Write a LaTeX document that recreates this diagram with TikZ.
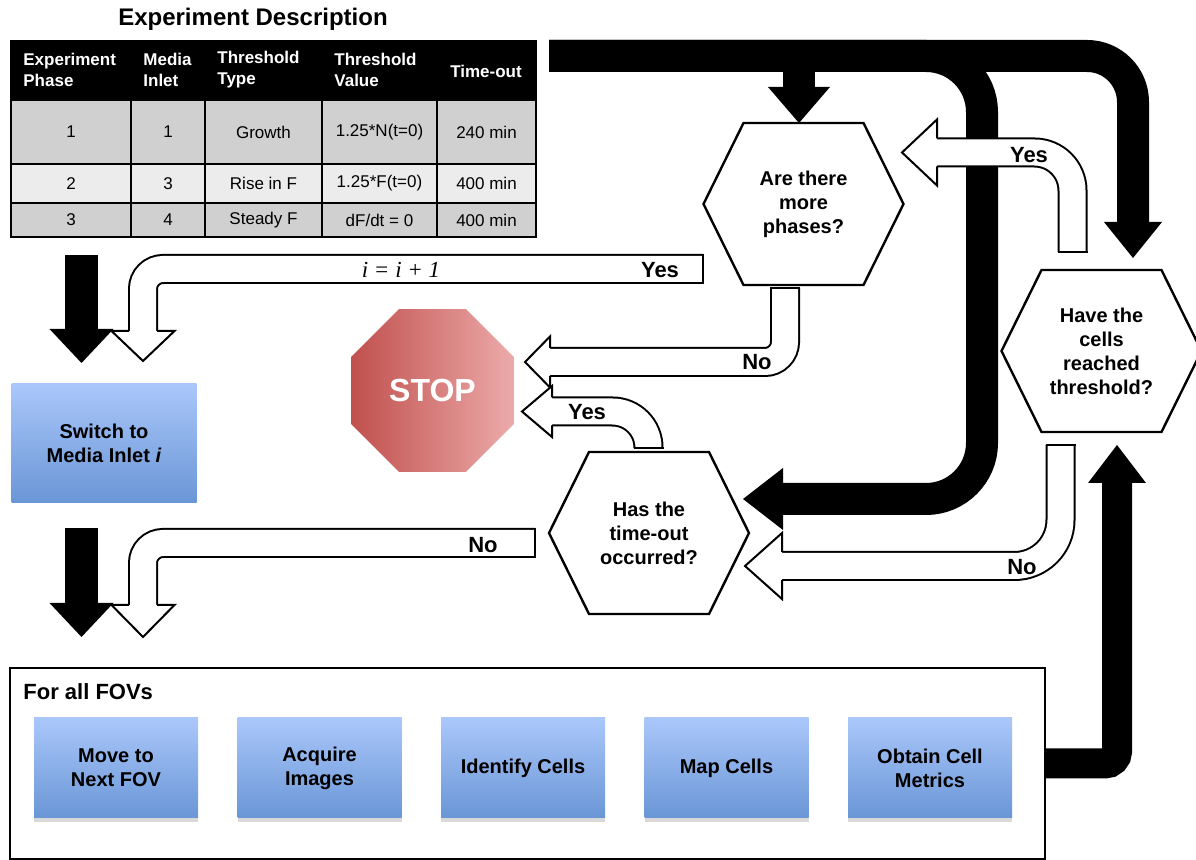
\documentclass[tikz,border=0pt]{standalone}
\usepackage{fontspec}
\setmainfont{Liberation Sans}
\newfontfamily\serifit{Liberation Serif}
\usetikzlibrary{calc, shapes.geometric, shadows}

\definecolor{boxtop}{RGB}{170,199,250}
\definecolor{boxbot}{RGB}{106,150,214}
\definecolor{stopdark}{RGB}{192,80,77}
\definecolor{stoplight}{RGB}{236,170,170}
\definecolor{rowdark}{RGB}{208,208,208}
\definecolor{rowlight}{RGB}{236,236,236}

\tikzset{
  pics/whead/.style 2 args={code={\filldraw[fill=white, line width=1pt, line join=miter] (-14,0) -- (-#1,0) -- (0,#2) -- (#1,0) -- (14,0);}},
  pics/bhead/.style 2 args={code={\fill (-#1,-1) -- (#1,-1) -- (0,#2) -- cycle;}}
}
\newcommand{\hexframe}[1]{\draw[line width=1.2pt, line join=miter] (#1.west) -- ($(#1.north west)!.2!(#1.north east)$) -- ($(#1.north west)!.8!(#1.north east)$) -- (#1.east) -- ($(#1.south west)!.8!(#1.south east)$) -- ($(#1.south west)!.2!(#1.south east)$) -- cycle;}

\begin{document}
\begin{tikzpicture}[x=0.5pt, y=-0.5pt,
    hexnode/.style={minimum width=100pt, minimum height=81pt, inner sep=0pt, outer sep=0pt, align=center, font=\fontsize{10}{12}\selectfont\bfseries},
    bluebox/.style={rectangle, top color=boxtop, bottom color=boxbot, inner sep=0pt, align=center, font=\fontsize{10}{12}\selectfont\bfseries},
    wband/.style={draw=black, line width=1pt, double=white, double distance=13pt},
    bband/.style={line width=16pt},
    endline/.style={line width=1pt, line cap=rect},
    lbl/.style={font=\fontsize{11}{13}\selectfont\bfseries, inner sep=0pt},
    hcell/.style={anchor=west, align=left, inner sep=0pt, text=white, font=\fontsize{8.5}{10.5}\selectfont\bfseries},
    bodycell/.style={inner sep=0pt, font=\fontsize{8.5}{10}\selectfont}]
  \useasboundingbox (0,0) rectangle (1196,860);

  % table
  \node[font=\fontsize{12}{14}\selectfont\bfseries] (title) at (253,19) {Experiment Description};
  \fill (11,41) rectangle (536,100);
  \fill[rowdark] (11,100) rectangle (536,164);
  \fill[rowlight] (11,164) rectangle (536,203);
  \fill[rowdark] (11,203) rectangle (536,237);
  \draw[line width=1pt] (11,41) rectangle (536,237);
  \foreach \y in {100,164,203} \draw[line width=1pt] (11,\y) -- (536,\y);
  \foreach \x in {131,205,322,437} \draw[line width=1pt] (\x,100) -- (\x,237);

  \node[hcell] (hPhase) at (23,70) {Experiment\\Phase};
  \node[hcell] (hInlet) at (143,70) {Media\\Inlet};
  \node[hcell] (hType) at (217,70) {Threshold\\Type};
  \node[hcell] (hValue) at (334,70) {Threshold\\Value};
  \node[hcell, anchor=center] (hTime) at (486,71) {Time-out};

  \node[bodycell] (phase1) at (71,132) {1};
  \node[bodycell] (inlet1) at (168,132) {1};
  \node[bodycell] (type1) at (263.5,132) {Growth};
  \node[bodycell] (value1) at (379.5,132) {1.25*N(t=0)};
  \node[bodycell] (time1) at (486.5,132) {240 min};
  \node[bodycell] (phase2) at (71,183.5) {2};
  \node[bodycell] (inlet2) at (168,183.5) {3};
  \node[bodycell] (type2) at (263.5,183.5) {Rise in F};
  \node[bodycell] (value2) at (379.5,183.5) {1.25*F(t=0)};
  \node[bodycell] (time2) at (486.5,183.5) {400 min};
  \node[bodycell] (phase3) at (71,220) {3};
  \node[bodycell] (inlet3) at (168,220) {4};
  \node[bodycell] (type3) at (263.5,220) {Steady F};
  \node[bodycell] (value3) at (379.5,220) {dF/dt = 0};
  \node[bodycell] (time3) at (486.5,220) {400 min};

  % decisions and blocks
  \node[hexnode] (more) at (803.5,204) {Are there\\more\\phases?};
  \node[hexnode] (cells) at (1101.5,351) {Have the\\cells\\reached\\threshold?};
  \node[hexnode] (timeout) at (649,533) {Has the\\time-out\\occurred?};
  \hexframe{more}
  \hexframe{cells}
  \hexframe{timeout}

  \node[regular polygon, regular polygon sides=8, minimum size=88pt, inner sep=0pt, left color=stopdark, right color=stoplight, text=white, font=\fontsize{16}{18}\selectfont\bfseries] (stop) at (432.5,390.5) {STOP};

  \node[bluebox, minimum width=92.5pt, minimum height=59.5pt] (switch) at (104,443.5) {Switch to\\Media Inlet \textit{i}};

  \node[draw, line width=1pt, minimum width=517.5pt, minimum height=95.5pt, inner sep=0pt] (fov) at (527.5,763.5) {};
  \node[anchor=west, inner sep=0pt, font=\fontsize{11}{13}\selectfont\bfseries] (fovLabel) at (23,692) {For all FOVs};
  \foreach \name/\txt [count=\i from 0] in {move/Move to\\Next FOV, acquire/Acquire\\Images, identify/Identify Cells, map/Map Cells, metrics/Obtain Cell\\Metrics}
    \node[bluebox, drop shadow={shadow xshift=0pt, shadow yshift=-2pt, opacity=.3}, minimum width=82pt, minimum height=50pt] (\name) at (116+203.5*\i,768) {\txt};

  % black flow
  \coordinate (feed) at (549,56);
  \coordinate (moreIn) at (799,88);
  \coordinate (cellsIn) at (1133,223);
  \coordinate (timeoutIn) at (782,499);
  \coordinate (cellsUp) at (1117,482);
  \draw[bband, rounded corners=23pt] (feed) -| (cellsIn);
  \draw[bband, rounded corners=28pt] (feed) -- (982,56) |- (timeoutIn);
  \draw[bband] (feed -| moreIn) -- (moreIn);
  \pic at (moreIn) {bhead={31}{35}};
  \pic at (cellsIn) {bhead={29}{35}};
  \pic[rotate=-90] at (timeoutIn) {bhead={31}{39}};
  \draw[line width=15pt, rounded corners=6pt] (fov.east) -| (cellsUp);
  \pic[rotate=180] at (cellsUp) {bhead={29}{37}};

  \coordinate (tableOut) at (81.5,255);
  \coordinate (switchIn) at (81.5,330);
  \coordinate (switchOut) at (81.5,528);
  \coordinate (fovIn) at (81.5,604);
  \draw[line width=16.5pt] (tableOut) -- (switchIn);
  \pic at (switchIn) {bhead={32}{33}};
  \draw[line width=16.5pt] (switchOut) -- (fovIn);
  \pic at (fovIn) {bhead={32}{33}};

  % hollow answers
  \coordinate (incS) at (703,269);
  \coordinate (incH) at (143,331);
  \draw[wband, rounded corners=10pt] (incS) -| (incH);
  \draw[endline] (incS) ++(0,-14) -- ++(0,28);
  \pic at (incH) {whead={31.5}{30}};
  \node[font=\serifit\itshape\fontsize{11.5}{13}\selectfont, inner sep=0pt] (inc) at (401,270) {i = i + 1};
  \node[lbl] (incYes) at (660,270) {Yes};

  \coordinate (waitS) at (535,543);
  \coordinate (waitH) at (143,605);
  \draw[wband, rounded corners=10pt] (waitS) -| (waitH);
  \draw[endline] (waitS) ++(0,-14) -- ++(0,28);
  \pic at (waitH) {whead={31.5}{32}};
  \node[lbl] (waitNo) at (483,545) {No};

  \coordinate (moreNo) at (785,288);
  \coordinate (moreNoH) at (550,362);
  \draw[wband, rounded corners=10pt] (moreNo) |- (moreNoH);
  \draw[endline] (moreNo) ++(-14,0) -- ++(28,0);
  \pic[rotate=-90] at (moreNoH) {whead={25.5}{25}};
  \node[lbl] (moreNoL) at (757,362) {No};

  \coordinate (outYes) at (648.5,448);
  \coordinate (outYesH) at (552,411.5);
  \draw[wband, rounded corners=18pt] (outYes) |- (outYesH);
  \draw[endline] (outYes) ++(-14,0) -- ++(28,0);
  \pic[rotate=-90] at (outYesH) {whead={25.5}{30}};
  \node[lbl] (outYesL) at (587,412) {Yes};

  \coordinate (cellsYes) at (1072.5,252);
  \coordinate (cellsYesH) at (937,152.5);
  \draw[wband, rounded corners=19pt] (cellsYes) |- (cellsYesH);
  \draw[endline] (cellsYes) ++(-14,0) -- ++(28,0);
  \pic[rotate=-90] at (cellsYesH) {whead={33}{35}};
  \node[lbl] (cellsYesL) at (1029,155) {Yes};

  \coordinate (cellsNo) at (1060.5,445);
  \coordinate (cellsNoH) at (782,566);
  \draw[wband, rounded corners=23pt] (cellsNo) |- (cellsNoH);
  \draw[endline] (cellsNo) ++(-14,0) -- ++(28,0);
  \pic[rotate=-90] at (cellsNoH) {whead={33}{37}};
  \node[lbl] (cellsNoL) at (1022,567) {No};
\end{tikzpicture}
\end{document}
